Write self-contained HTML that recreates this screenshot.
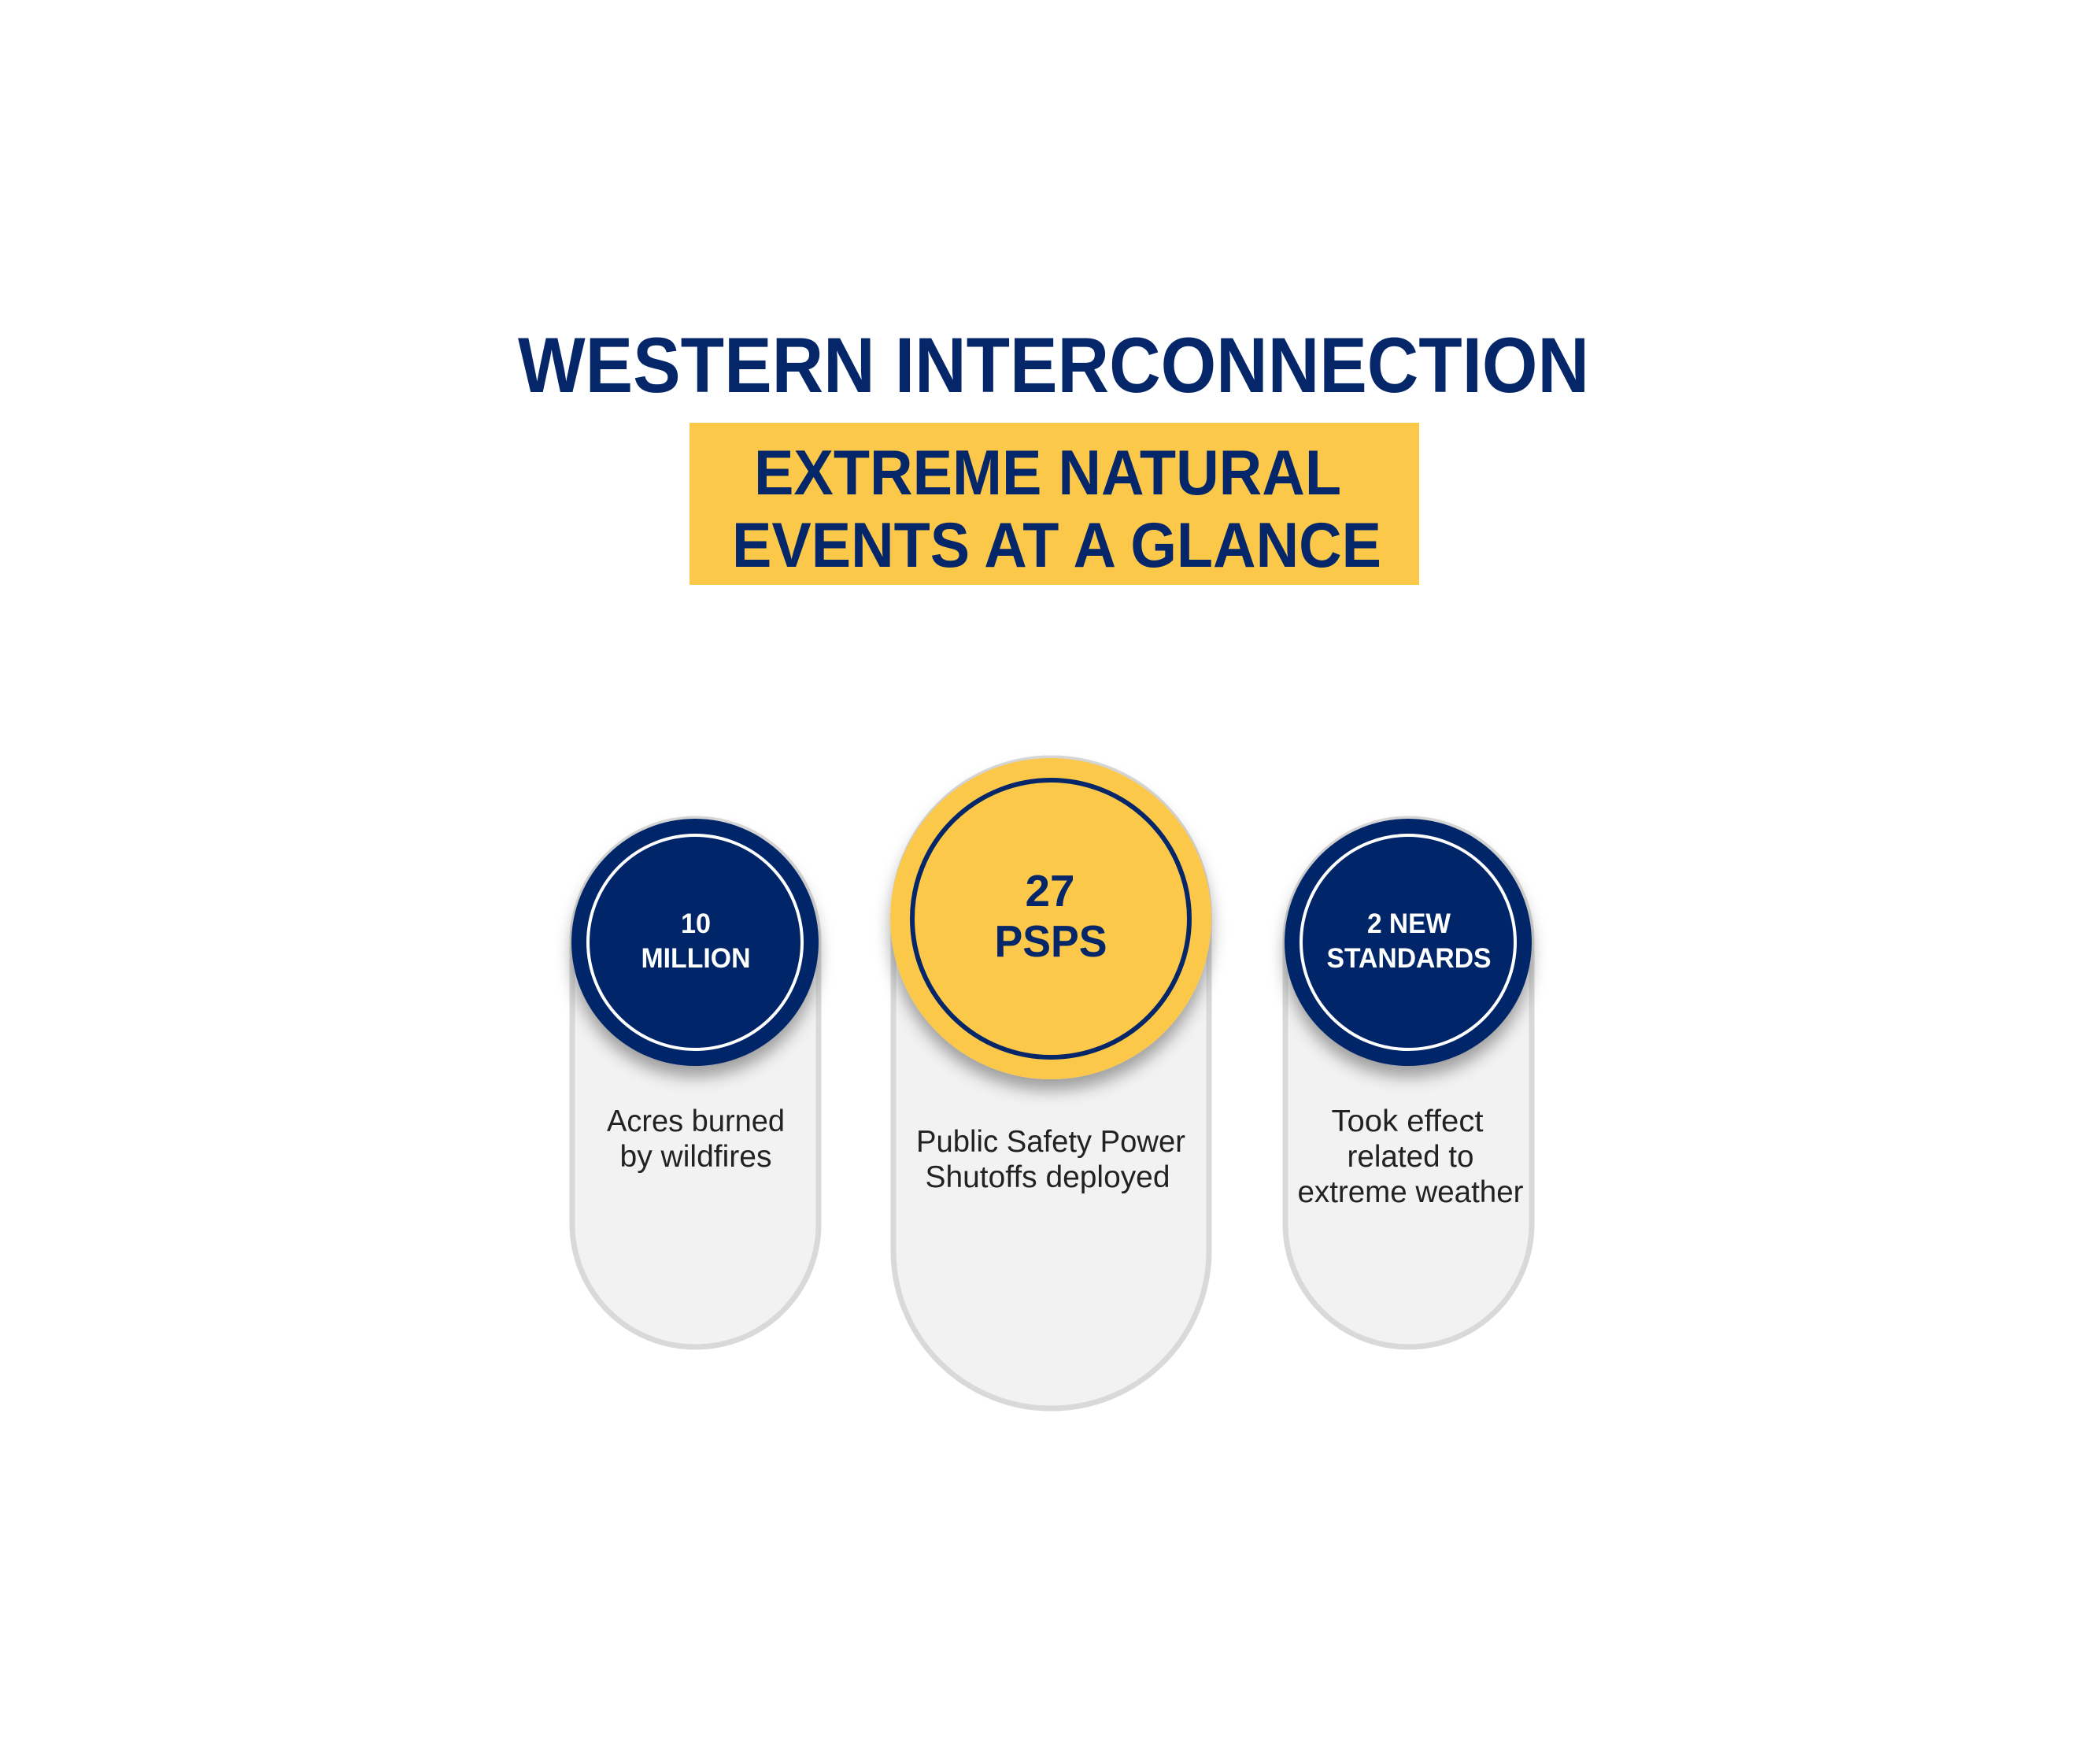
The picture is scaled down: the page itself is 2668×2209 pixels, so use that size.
<!DOCTYPE html>
<html><head><meta charset="utf-8"><style>
html,body{margin:0;padding:0;background:#fff;}
svg{display:block;}
</style></head><body>
<svg width="2668" height="2209" viewBox="0 0 2668 2209" xmlns="http://www.w3.org/2000/svg" font-family="'Liberation Sans', sans-serif">
<defs>
<filter id="sh" x="-30%" y="-30%" width="160%" height="170%">
<feDropShadow dx="0" dy="14" stdDeviation="10" flood-color="#000" flood-opacity="0.35"/>
</filter>
</defs>
<rect width="2668" height="2209" fill="#fff"/>
<text x="658" y="498" font-size="99" font-weight="bold" fill="#052769" textLength="1361" lengthAdjust="spacingAndGlyphs">WESTERN INTERCONNECTION</text>
<rect x="876" y="537" width="927" height="206" fill="#fcc84a"/>
<text x="958" y="628" font-size="81" font-weight="bold" fill="#052769" textLength="746" lengthAdjust="spacingAndGlyphs">EXTREME NATURAL</text>
<text x="930" y="720" font-size="81" font-weight="bold" fill="#052769" textLength="825" lengthAdjust="spacingAndGlyphs">EVENTS AT A GLANCE</text>

<rect x="727" y="1040" width="313" height="671" rx="156" fill="#f2f2f2" stroke="#d9d9d9" stroke-width="7"/>
<rect x="1135" y="963" width="401" height="826" rx="200" fill="#f2f2f2" stroke="#d9d9d9" stroke-width="7"/>
<rect x="1633" y="1040" width="313" height="671" rx="156" fill="#f2f2f2" stroke="#d9d9d9" stroke-width="7"/>

<circle cx="883" cy="1197" r="157" fill="#052769" filter="url(#sh)"/>
<circle cx="883" cy="1197" r="136" fill="none" stroke="#fff" stroke-width="4"/>
<circle cx="1335" cy="1167" r="204" fill="#fcc84a" filter="url(#sh)"/>
<circle cx="1335" cy="1167" r="176" fill="none" stroke="#052769" stroke-width="6"/>
<circle cx="1789" cy="1197" r="157" fill="#052769" filter="url(#sh)"/>
<circle cx="1789" cy="1197" r="136" fill="none" stroke="#fff" stroke-width="4"/>

<g font-weight="bold" text-anchor="middle">
<text x="884" y="1185" font-size="35" fill="#fff" textLength="38" lengthAdjust="spacingAndGlyphs">10</text>
<text x="884" y="1229" font-size="35" fill="#fff" textLength="139" lengthAdjust="spacingAndGlyphs">MILLION</text>
<text x="1334" y="1151" font-size="57" fill="#052769" textLength="63" lengthAdjust="spacingAndGlyphs">27</text>
<text x="1335" y="1215" font-size="57" fill="#052769" textLength="143" lengthAdjust="spacingAndGlyphs">PSPS</text>
<text x="1790" y="1185" font-size="35" fill="#fff" textLength="106" lengthAdjust="spacingAndGlyphs">2 NEW</text>
<text x="1790" y="1229" font-size="35" fill="#fff" textLength="209" lengthAdjust="spacingAndGlyphs">STANDARDS</text>
</g>

<g font-size="39" fill="#222" text-anchor="middle">
<text x="884" y="1437" textLength="226" lengthAdjust="spacingAndGlyphs">Acres burned</text>
<text x="884" y="1482" textLength="193" lengthAdjust="spacingAndGlyphs">by wildfires</text>
<text x="1335" y="1463" textLength="342" lengthAdjust="spacingAndGlyphs">Public Safety Power</text>
<text x="1331" y="1508" textLength="311" lengthAdjust="spacingAndGlyphs">Shutoffs deployed</text>
<text x="1788" y="1437" textLength="193" lengthAdjust="spacingAndGlyphs">Took effect</text>
<text x="1792" y="1482" textLength="161" lengthAdjust="spacingAndGlyphs">related to</text>
<text x="1792" y="1527" textLength="287" lengthAdjust="spacingAndGlyphs">extreme weather</text>
</g>
</svg>
</body></html>
